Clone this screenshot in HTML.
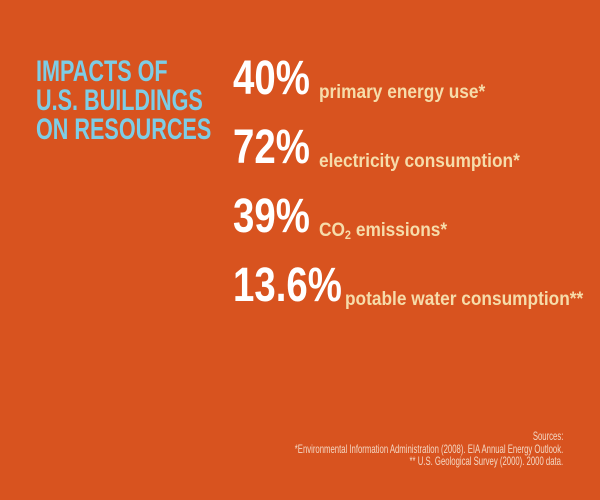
<!DOCTYPE html>
<html><head><meta charset="utf-8"><style>
html,body{margin:0;padding:0}
body{width:600px;height:500px;background:#d8531f;position:relative;overflow:hidden;font-family:"Liberation Sans",sans-serif}
.t{position:absolute;white-space:nowrap;transform-origin:0 0}
.title{color:#7dcde6;font-weight:bold;font-size:30px;line-height:30px;transform:scaleX(0.72)}
.num{color:#fff;font-weight:bold;font-size:48px;line-height:48px;transform:scaleX(0.8)}
.lab{color:#f6dcaa;font-weight:bold;font-size:19px;line-height:19px;transform:scaleX(0.91)}
.src{position:absolute;right:37px;white-space:nowrap;color:#f3d7c3;font-size:12px;line-height:12px;text-align:right;transform:scaleX(0.645);transform-origin:100% 0}
</style></head><body>
<div class="t title" style="left:36px;top:57px">IMPACTS OF</div>
<div class="t title" style="left:36px;top:86px">U.S. BUILDINGS</div>
<div class="t title" style="left:36px;top:115px">ON RESOURCES</div>

<div class="t num" style="left:233px;top:55px">40%</div>
<div class="t lab" style="left:319px;top:83px">primary energy use*</div>

<div class="t num" style="left:233px;top:124px">72%</div>
<div class="t lab" style="left:319px;top:152px">electricity consumption*</div>

<div class="t num" style="left:233px;top:193px">39%</div>
<div class="t lab" style="left:319px;top:221px">CO<span style="font-size:12px;vertical-align:-3px">2</span> emissions*</div>

<div class="t num" style="left:233px;top:262px">13.6%</div>
<div class="t lab" style="left:345px;top:290px">potable water consumption**</div>

<div class="src" style="top:430px">Sources:</div>
<div class="src" style="top:443px">*Environmental Information Administration (2008). EIA Annual Energy Outlook.</div>
<div class="src" style="top:455px">** U.S. Geological Survey (2000). 2000 data.</div>
</body></html>
